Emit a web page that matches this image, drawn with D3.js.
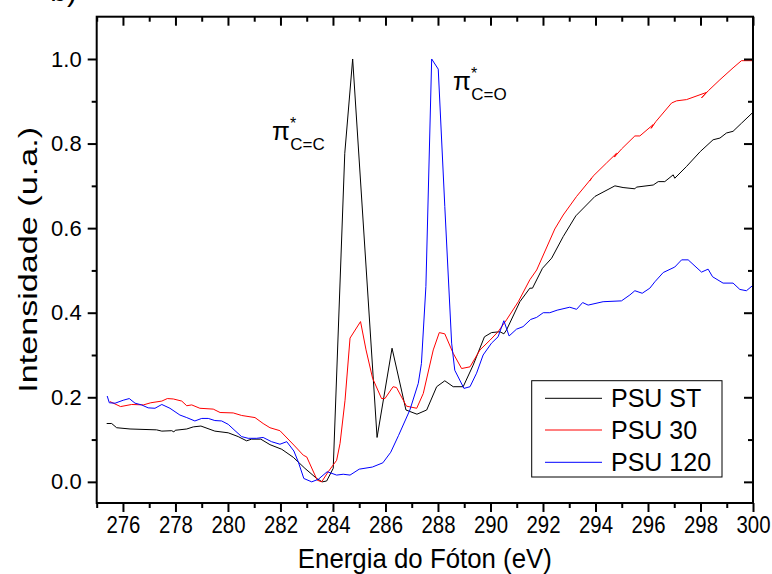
<!DOCTYPE html>
<html><head><meta charset="utf-8">
<script src="https://cdn.jsdelivr.net/npm/d3@7"></script>
<style>body{margin:0;background:#fff}svg{display:block}text{font-family:"Liberation Sans",Arial,sans-serif;fill:#000}</style>
</head><body><svg id="c" width="772" height="574"></svg>
<script>
const stE=[275.38,275.57,275.76,276.27,277.28,277.48,277.86,277.94,277.99,278.43,278.68,278.97,279.5,280.01,280.39,280.71,280.9,281.25,281.6,282.05,282.49,282.93,283.38,283.59,283.76,284.01,284.45,284.75,285.68,286.25,286.78,287.2,287.57,287.95,288.26,288.58,288.96,289.34,289.77,290.04,290.36,290.51,290.61,291.12,291.5,291.6,291.98,292.33,292.77,293.25,293.98,294.74,295.05,295.5,295.56,296.2,296.39,296.64,296.96,297.02,297.47,297.99,298.48,298.74,298.99,299.24,299.56,300];
const stV=[0.138,0.138,0.128,0.125,0.123,0.12,0.121,0.118,0.122,0.125,0.13,0.132,0.12,0.116,0.107,0.097,0.101,0.101,0.088,0.077,0.058,0.032,0.008,0,0.002,0.032,0.777,1,0.105,0.316,0.17,0.16,0.17,0.225,0.239,0.225,0.225,0.276,0.343,0.353,0.355,0.35,0.359,0.426,0.458,0.458,0.505,0.529,0.58,0.629,0.675,0.7,0.696,0.693,0.697,0.702,0.71,0.71,0.726,0.718,0.746,0.781,0.809,0.813,0.825,0.829,0.848,0.874];
const p30E=[275.5,275.91,276.33,276.78,277.06,277.48,277.69,277.92,278.24,278.43,278.62,278.93,279.44,279.7,280.2,280.52,281.03,281.34,281.6,281.98,282.51,282.87,283,283.4,283.57,283.82,284.14,284.27,284.46,284.65,285.05,285.26,285.51,285.85,285.98,286.29,286.42,286.8,287.19,287.44,287.82,288.05,288.26,288.58,288.9,289.22,289.6,289.98,290.29,290.61,291.06,291.5,291.76,292.45,292.77,293.28,293.85,293.78,293.91,294.42,294.8,294.72,294.99,295.5,295.69,296.2,296.12,296.3,296.9,297.09,297.47,298.23,298.04,298.3,298.74,299.24,299.56,300];
const p30V=[0.19,0.178,0.183,0.182,0.187,0.191,0.197,0.196,0.191,0.18,0.182,0.174,0.172,0.164,0.163,0.157,0.152,0.138,0.128,0.121,0.087,0.063,0.059,0.004,0,0.024,0.051,0.091,0.193,0.34,0.379,0.312,0.245,0.197,0.197,0.225,0.223,0.179,0.174,0.209,0.312,0.353,0.35,0.304,0.268,0.272,0.312,0.335,0.355,0.383,0.426,0.478,0.501,0.598,0.631,0.675,0.718,0.712,0.723,0.754,0.777,0.768,0.787,0.818,0.818,0.845,0.836,0.852,0.896,0.901,0.904,0.921,0.908,0.925,0.951,0.979,0.996,0.996];
const p120E=[275.4,275.48,275.7,276.01,276.24,276.46,276.71,276.96,277.22,277.48,277.79,278.17,278.43,278.74,279,279.25,279.5,279.76,280.01,280.27,280.52,280.77,281.09,281.34,281.66,281.98,282.24,282.51,282.68,282.89,283.19,283.44,283.78,284.14,284.39,284.65,285,285.5,285.9,286.2,286.5,286.93,287.25,287.37,287.54,287.76,288.01,288.26,288.52,288.64,288.99,289.22,289.47,289.72,290.04,290.29,290.51,290.71,290.99,291.24,291.53,291.76,292.01,292.26,292.54,293.02,293.28,293.51,293.72,294.29,294.99,295.31,295.5,295.78,296.07,296.26,296.58,297.02,297.28,297.53,298.04,298.29,298.46,298.86,299.24,299.5,299.75,300];
const p120V=[0.203,0.187,0.186,0.193,0.197,0.186,0.182,0.175,0.174,0.183,0.174,0.158,0.152,0.144,0.15,0.15,0.145,0.144,0.136,0.121,0.107,0.103,0.103,0.105,0.095,0.089,0.095,0.073,0.047,0.008,0,0.006,0.024,0.016,0.018,0.016,0.03,0.035,0.045,0.07,0.11,0.17,0.233,0.28,0.462,1,0.976,0.651,0.328,0.264,0.221,0.225,0.257,0.3,0.328,0.343,0.381,0.345,0.361,0.367,0.384,0.389,0.4,0.4,0.406,0.413,0.408,0.424,0.418,0.426,0.428,0.442,0.452,0.446,0.458,0.473,0.495,0.508,0.525,0.525,0.496,0.503,0.485,0.47,0.47,0.455,0.452,0.465];
const seriesNames=["PSU ST","PSU 30","PSU 120"];
const seriesColors=["#000000","#ff0000","#0000ff"];
const xTicks=[276,278,280,282,284,286,288,290,292,294,296,298,300];
const yTicks=[0.0,0.2,0.4,0.6,0.8,1.0];
const xTitle="Energia do Fóton (eV)";
const yTitle="Intensidade (u.a.)";

const svg=d3.select("#c");
const L=96.7,R=753,T=16.7,B=503;
const x=d3.scaleLinear().domain([275,300]).range([L,R]);
const y=d3.scaleLinear().domain([-0.05,1.1]).range([B,T]);

// panel label (cropped in the reference too)
svg.append("text").attr("x",77).attr("y",1).attr("text-anchor","end").attr("font-size",30).text("b)");

const data=[[stE,stV],[p30E,p30V],[p120E,p120V]];
const line=d3.line().x(d=>x(d[0])).y(d=>y(d[1]));
const g=svg.append("g");
data.forEach((s,i)=>{
  const pts=s[0].map((e,j)=>[e,s[1][j]]);
  g.append("path").attr("d",line(pts)).attr("fill","none").attr("stroke",seriesColors[i]).attr("stroke-width",1);
});

const minorX=d3.range(275,301,1).filter(v=>!xTicks.includes(v));
const minorY=d3.range(-0.0,1.1,0.1).map(v=>+v.toFixed(1)).filter(v=>!yTicks.some(t=>Math.abs(t-v)<1e-6));
function axis(gen,tr){return svg.append("g").attr("transform",tr).call(gen).call(a=>a.select(".domain").remove()).call(a=>a.selectAll("line").attr("stroke","#000").attr("stroke-width",2));}
const bx=axis(d3.axisBottom(x).tickValues(xTicks).tickSize(9).tickPadding(5).tickFormat(d3.format("d")),`translate(0,${B})`);
bx.selectAll("text").attr("font-size",23).attr("textLength",34).attr("lengthAdjust","spacingAndGlyphs").attr("font-family","Liberation Sans, Arial, sans-serif");
axis(d3.axisBottom(x).tickValues(minorX).tickSize(5).tickFormat(""),`translate(0,${B})`);
axis(d3.axisBottom(x).tickValues(xTicks).tickSize(9).tickFormat(""),`translate(0,${T})`);
axis(d3.axisBottom(x).tickValues(minorX).tickSize(5).tickFormat(""),`translate(0,${T})`);
const ly=axis(d3.axisLeft(y).tickValues(yTicks).tickSize(9).tickPadding(6).tickFormat(d3.format(".1f")),`translate(${L},0)`);
ly.selectAll("text").attr("font-size",22).attr("font-family","Liberation Sans, Arial, sans-serif");
axis(d3.axisLeft(y).tickValues(minorY).tickSize(5).tickFormat(""),`translate(${L},0)`);
axis(d3.axisLeft(y).tickValues(yTicks).tickSize(9).tickFormat(""),`translate(${R},0)`);
axis(d3.axisLeft(y).tickValues(minorY).tickSize(5).tickFormat(""),`translate(${R},0)`);

svg.append("rect").attr("x",L).attr("y",T).attr("width",R-L).attr("height",B-T).attr("fill","none").attr("stroke","#000").attr("stroke-width",2);

svg.append("text").attr("x",(L+R)/2).attr("y",568).attr("text-anchor","middle").attr("font-size",28).attr("textLength",254).attr("lengthAdjust","spacingAndGlyphs").text(xTitle);
svg.append("text").attr("transform",`translate(37,${(T+B)/2}) rotate(-90)`).attr("text-anchor","middle").attr("font-size",25).attr("textLength",266).attr("lengthAdjust","spacingAndGlyphs").text(yTitle);

function pi(xp,yp,sub){
  const t=svg.append("text").attr("x",xp).attr("y",yp).attr("font-size",26);
  t.append("tspan").text("π");
  t.append("tspan").attr("font-size",16).attr("dy",-11).text("*");
  t.append("tspan").attr("font-size",17).attr("dx",-6).attr("dy",21).text(sub);
}
pi(272,140,"C=C");
pi(453,90,"C=O");

const lg=svg.append("g");
lg.append("rect").attr("x",531.7).attr("y",380.7).attr("width",190.3).attr("height",96.3).attr("fill","#fff").attr("stroke","#000").attr("stroke-width",1);
const ly0=[398.3,430,462.3];
seriesNames.forEach((n,i)=>{
  lg.append("line").attr("x1",545).attr("x2",602).attr("y1",ly0[i]).attr("y2",ly0[i]).attr("stroke",seriesColors[i]).attr("stroke-width",1);
  lg.append("text").attr("x",611).attr("y",ly0[i]+9).attr("font-size",25).text(n);
});
</script></body></html>
